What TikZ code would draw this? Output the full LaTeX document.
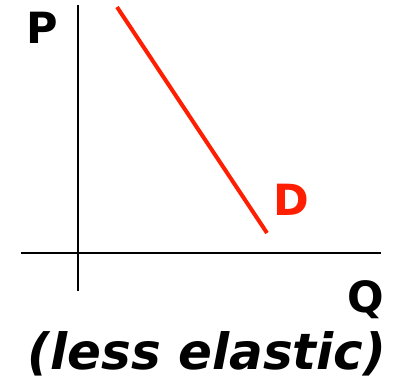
\documentclass[tikz,border=0pt]{standalone}
\usepackage{fontspec}
\setmainfont{DejaVu Sans}
\definecolor{dred}{RGB}{255,30,0}
\begin{document}
\begin{tikzpicture}[x=1pt,y=-1pt,
  axis/.style={line width=2pt,black},
  lbl/.style={inner sep=0pt,font=\bfseries\fontsize{43}{43}\selectfont}]
\useasboundingbox (0,0) rectangle (394,381);
\coordinate (ytop) at (78,5);
\coordinate (ybot) at (78,291);
\coordinate (xl) at (21,253);
\coordinate (xr) at (381,253);
\draw[axis] (ytop) -- (ybot);
\draw[axis] (xl) -- (xr);
\coordinate (d1) at (117,7);
\coordinate (d2) at (267,233);
\draw[dred,line width=4pt] (d1) -- (d2);
\node[lbl,anchor=base west] (P) at (26,43) {P};
\node[lbl,anchor=base west,text=dred] (D) at (273,215) {D};
\node[lbl,anchor=base east] (Q) at (384,312) {Q};
\node[inner sep=0pt,anchor=base,font=\bfseries\itshape\fontsize{50}{50}\selectfont] (cap) at (207,369) {(less elastic)};
\end{tikzpicture}
\end{document}
